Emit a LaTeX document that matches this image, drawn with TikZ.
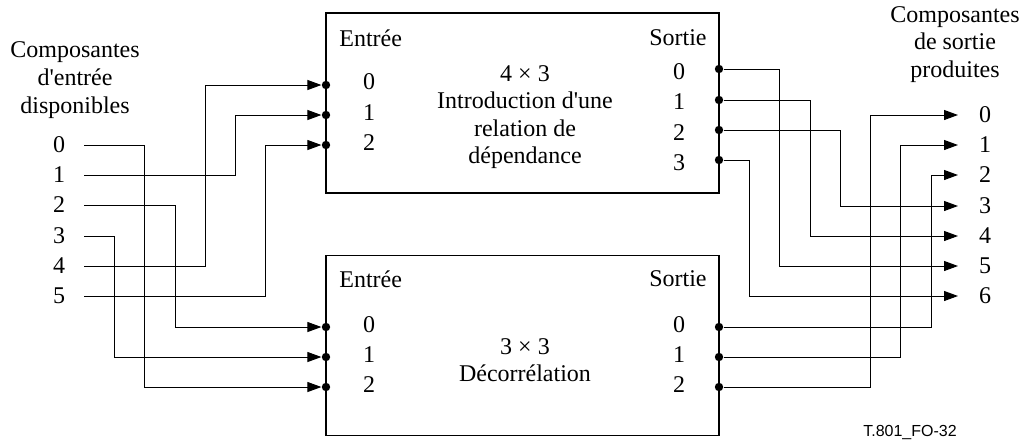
\documentclass[tikz,border=0pt]{standalone}
\usepackage{fontspec}
\setmainfont{Liberation Serif}
\newfontfamily\tagfont{Liberation Sans}
\usepackage{tikz}
\usetikzlibrary{
    arrows.meta,
    positioning
}
\tikzset{
    block/.style={
        rectangle,
        draw=black,
        line width=0.7pt,
        minimum width=196.5pt,
        minimum height=90pt,
        inner sep=0pt
    },
    portdot/.style={
        circle,
        fill=black,
        inner sep=0pt,
        minimum size=4.2pt
    },
    num/.style={
        inner sep=0pt,
        font=\fontsize{12}{14}\selectfont
    },
    heading/.style={
        inner sep=0pt,
        align=center,
        font=\fontsize{12}{13.8}\selectfont
    },
    arrow/.style={
        -{Triangle[length=7pt,width=5pt]},
        line width=0.5pt
    }
}

\begin{document}
\begin{tikzpicture}[x=0.5pt, y=-0.5pt]
\useasboundingbox (0,0) rectangle (1022,441);

% the two blocks
\node[block] (dep) at (522.5,103) {};
\node[block] (dec) at (522.5,345.5) {};

\node[num, anchor=west] (depentree) at (339,38) {Entrée};
\node[num, anchor=east] (depsortie) at (707,38) {Sortie};
\node[heading] (deptext) at (525,117) {4 × 3\\Introduction d\textquotesingle une\\relation de\\dépendance};
\node[num] (depi0) at (369,82) {0};
\node[num] (depi1) at (369,113) {1};
\node[num] (depi2) at (369,143) {2};
\node[num] (depo0) at (679,72) {0};
\node[num] (depo1) at (679,102) {1};
\node[num] (depo2) at (679,133) {2};
\node[num] (depo3) at (679,163) {3};

\node[num, anchor=west] (decentree) at (339,279) {Entrée};
\node[num, anchor=east] (decsortie) at (707,279) {Sortie};
\node[heading] (dectext) at (525,360) {3 × 3\\Décorrélation};
\node[num] (deci0) at (369,325) {0};
\node[num] (deci1) at (369,355) {1};
\node[num] (deci2) at (369,385) {2};
\node[num] (deco0) at (679,325) {0};
\node[num] (deco1) at (679,355) {1};
\node[num] (deco2) at (679,385) {2};

% ports
\node[portdot] (depin0) at (326,85) {};
\node[portdot] (depin1) at (326,115) {};
\node[portdot] (depin2) at (326,145) {};
\node[portdot] (depout0) at (719,69) {};
\node[portdot] (depout1) at (719,100) {};
\node[portdot] (depout2) at (719,130) {};
\node[portdot] (depout3) at (719,160) {};
\node[portdot] (decin0) at (326,327) {};
\node[portdot] (decin1) at (326,357) {};
\node[portdot] (decin2) at (326,387) {};
\node[portdot] (decout0) at (719,327) {};
\node[portdot] (decout1) at (719,357) {};
\node[portdot] (decout2) at (719,387) {};

% available input components
\node[heading] (intitle) at (75,80) {Composantes\\d\textquotesingle entrée\\disponibles};
\coordinate (s0) at (84,145);
\coordinate (s1) at (84,175);
\coordinate (s2) at (84,205);
\coordinate (s3) at (84,236);
\coordinate (s4) at (84,266);
\coordinate (s5) at (84,296);
\node[num] (in0) at (59,145) {0};
\node[num] (in1) at (59,175) {1};
\node[num] (in2) at (59,205) {2};
\node[num] (in3) at (59,236) {3};
\node[num] (in4) at (59,266) {4};
\node[num] (in5) at (59,296) {5};

% produced output components
\node[heading] (outtitle) at (955,44.5) {Composantes\\de sortie\\produites};
\coordinate (e0) at (958,115);
\coordinate (e1) at (958,145);
\coordinate (e2) at (958,175);
\coordinate (e3) at (958,206);
\coordinate (e4) at (958,236);
\coordinate (e5) at (958,266);
\coordinate (e6) at (958,296);
\node[num] (out0) at (985,115) {0};
\node[num] (out1) at (985,145) {1};
\node[num] (out2) at (985,175) {2};
\node[num] (out3) at (985,206) {3};
\node[num] (out4) at (985,236) {4};
\node[num] (out5) at (985,266) {5};
\node[num] (out6) at (985,296) {6};

\node[inner sep=0pt, font=\tagfont\fontsize{8}{9}\selectfont] (tag) at (910,432) {T.801\_FO-32};

% input wiring
\draw[arrow] (s0) -- ++(60,0) |- (decin2);
\draw[arrow] (s1) -- ++(151,0) |- (depin1);
\draw[arrow] (s2) -- ++(91,0) |- (decin0);
\draw[arrow] (s3) -- ++(30,0) |- (decin1);
\draw[arrow] (s4) -- ++(121,0) |- (depin0);
\draw[arrow] (s5) -- ++(181,0) |- (depin2);

% output wiring
\draw[arrow] (depout0) -- ++(60,0) |- (e5);
\draw[arrow] (depout1) -- ++(91,0) |- (e4);
\draw[arrow] (depout2) -- ++(121,0) |- (e3);
\draw[arrow] (depout3) -- ++(30,0) |- (e6);
\draw[arrow] (decout0) -- ++(212,0) |- (e2);
\draw[arrow] (decout1) -- ++(181,0) |- (e1);
\draw[arrow] (decout2) -- ++(151,0) |- (e0);
\end{tikzpicture}
\end{document}
